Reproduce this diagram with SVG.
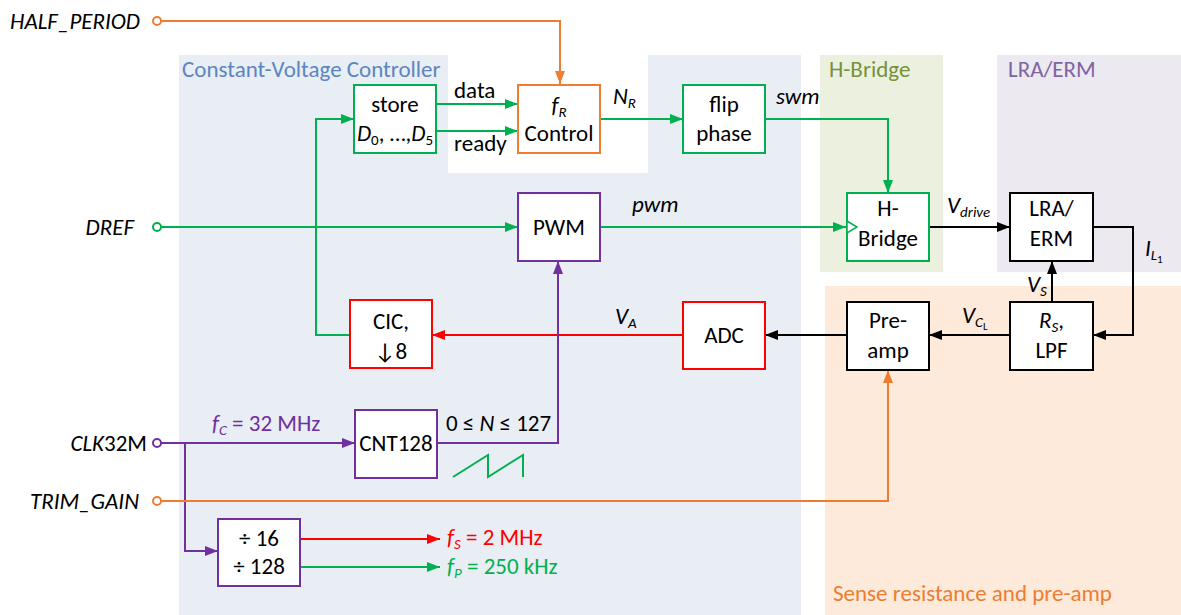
<svg xmlns="http://www.w3.org/2000/svg" width="1181" height="615" viewBox="0 0 1181 615">
<style>
text{font-family:Carlito,Lato,"Open Sans",sans-serif;font-size:23px;fill:#000}
.c{text-anchor:middle}
.r{text-anchor:end}
.i{font-style:italic}
.box{fill:#fff;stroke-width:2}
.g{stroke:#00B050}.o{stroke:#ED7D31}.p{stroke:#7030A0}.rd{stroke:#FF0000}.k{stroke:#000}
.ln{fill:none;stroke-width:2}
.sub{font-size:15px}
.ss{font-size:11px}
</style>
<defs>
<marker id="ag" markerUnits="userSpaceOnUse" markerWidth="13" markerHeight="10" refX="13" refY="5" orient="auto"><path d="M0,0L13,5L0,10z" fill="#00B050"/></marker>
<marker id="ao" markerUnits="userSpaceOnUse" markerWidth="13" markerHeight="10" refX="13" refY="5" orient="auto"><path d="M0,0L13,5L0,10z" fill="#ED7D31"/></marker>
<marker id="ap" markerUnits="userSpaceOnUse" markerWidth="13" markerHeight="10" refX="13" refY="5" orient="auto"><path d="M0,0L13,5L0,10z" fill="#7030A0"/></marker>
<marker id="ar" markerUnits="userSpaceOnUse" markerWidth="13" markerHeight="10" refX="13" refY="5" orient="auto"><path d="M0,0L13,5L0,10z" fill="#FF0000"/></marker>
<marker id="ak" markerUnits="userSpaceOnUse" markerWidth="13" markerHeight="10" refX="13" refY="5" orient="auto"><path d="M0,0L13,5L0,10z" fill="#000"/></marker>
</defs>
<rect width="1181" height="615" fill="#fff"/>
<g id="regions">
<rect x="179" y="55" width="622" height="560" fill="#E9EDF4"/>
<rect x="448" y="55" width="200" height="118" fill="#fff"/>
<rect x="820" y="55" width="123" height="217" fill="#EBF1DE"/>
<rect x="997" y="55" width="184" height="217" fill="#ECE9F1"/>
<rect x="825" y="286" width="356" height="329" fill="#FDEADA"/>
<text x="182" y="77" style="fill:#5B86C0">Constant-Voltage Controller</text>
<text x="829" y="77" style="fill:#76923C">H-Bridge</text>
<text x="1008" y="77" style="fill:#8064A2">LRA/ERM</text>
<text x="833" y="601" style="fill:#ED7D31">Sense resistance and pre-amp</text>
</g>
<g id="connectors">
<polyline class="ln o" points="161,21 560,21 560,84" marker-end="url(#ao)"/>
<line class="ln g" x1="161" y1="227" x2="518" y2="227" marker-end="url(#ag)"/>
<line class="ln g" x1="436" y1="104" x2="518" y2="104" marker-end="url(#ag)"/>
<line class="ln g" x1="436" y1="131" x2="518" y2="131" marker-end="url(#ag)"/>
<line class="ln g" x1="600" y1="119" x2="683" y2="119" marker-end="url(#ag)"/>
<polyline class="ln g" points="765,119 888,119 888,193" marker-end="url(#ag)"/>
<line class="ln g" x1="600" y1="227" x2="846" y2="227" marker-end="url(#ag)"/>
<line class="ln k" x1="929" y1="227" x2="1010" y2="227" marker-end="url(#ak)"/>
<polyline class="ln k" points="1093,227 1133,227 1133,335 1093,335" marker-end="url(#ak)"/>
<line class="ln k" x1="1052" y1="302" x2="1052" y2="261" marker-end="url(#ak)"/>
<line class="ln k" x1="1010" y1="335" x2="929" y2="335" marker-end="url(#ak)"/>
<line class="ln k" x1="847" y1="335" x2="765" y2="335" marker-end="url(#ak)"/>
<line class="ln rd" x1="683" y1="335" x2="432" y2="335" marker-end="url(#ar)"/>
<polyline class="ln g" points="350,335 316,335 316,119 354,119" marker-end="url(#ag)"/>
<polyline class="ln p" points="437,443 558,443 558,261" marker-end="url(#ap)"/>
<line class="ln p" x1="161" y1="443" x2="355" y2="443" marker-end="url(#ap)"/>
<polyline class="ln p" points="185,443 185,551 218,551" marker-end="url(#ap)"/>
<polyline class="ln o" points="161,501 888,501 888,370" marker-end="url(#ao)"/>
<line class="ln rd" x1="300" y1="539" x2="440" y2="539" marker-end="url(#ar)"/>
<line class="ln g" x1="300" y1="567" x2="440" y2="567" marker-end="url(#ag)"/>
<polyline class="ln g" points="453,477 488,455 488,477 523,455 523,477" stroke-width="1.5"/>
<circle cx="157" cy="21" r="4" fill="#fff" stroke="#ED7D31" stroke-width="2"/>
<circle cx="157" cy="227" r="4" fill="#fff" stroke="#00B050" stroke-width="2"/>
<circle cx="157" cy="443" r="4" fill="#fff" stroke="#7030A0" stroke-width="2"/>
<circle cx="157" cy="501" r="4" fill="#fff" stroke="#ED7D31" stroke-width="2"/>
</g>
<g id="store"><rect class="box g" x="354" y="85" width="82" height="68"/>
<text class="c" x="395" y="112">store</text>
<text class="c" x="395" y="141"><tspan class="i">D</tspan><tspan class="sub" dy="4">0</tspan><tspan dy="-4">, …,</tspan><tspan class="i">D</tspan><tspan class="sub" dy="4">5</tspan></text></g>
<g id="fr-control"><rect class="box o" x="518" y="85" width="82" height="68"/>
<text class="c" x="559" y="113"><tspan class="i">f</tspan><tspan class="sub i" dy="4">R</tspan></text>
<text class="c" x="559" y="141">Control</text></g>
<g id="flip-phase"><rect class="box g" x="683" y="85" width="82" height="68"/>
<text class="c" x="724" y="112">flip</text>
<text class="c" x="724" y="141">phase</text></g>
<g id="pwm"><rect class="box p" x="518" y="193" width="82" height="68"/>
<text class="c" x="559" y="235">PWM</text></g>
<g id="h-bridge"><rect class="box g" x="847" y="193" width="82" height="68"/>
<polygon points="847,221 857,227 847,233" fill="#fff" stroke="#00B050" stroke-width="1.5"/>
<text class="c" x="888" y="216">H-</text>
<text class="c" x="888" y="246">Bridge</text></g>
<g id="lra-erm"><rect class="box k" x="1010" y="193" width="83" height="68"/>
<text class="c" x="1051.5" y="216">LRA/</text>
<text class="c" x="1051.5" y="246">ERM</text></g>
<g id="rs-lpf"><rect class="box k" x="1010" y="302" width="83" height="68"/>
<text class="c" x="1051.5" y="328"><tspan class="i">R</tspan><tspan class="sub i" dy="4">S</tspan><tspan dy="-4">,</tspan></text>
<text class="c" x="1051.5" y="358">LPF</text></g>
<g id="pre-amp"><rect class="box k" x="847" y="302" width="82" height="68"/>
<text class="c" x="888" y="328">Pre-</text>
<text class="c" x="888" y="358">amp</text></g>
<g id="adc"><rect class="box rd" x="683" y="302" width="82" height="67"/>
<text class="c" x="724" y="343">ADC</text></g>
<g id="cic"><rect class="box rd" x="350" y="300" width="82" height="68"/>
<text class="c" x="391" y="329">CIC,</text>
<text class="c" x="391" y="359">↓8</text></g>
<g id="cnt128"><rect class="box p" x="355" y="410" width="82" height="68"/>
<text class="c" x="396" y="451">CNT128</text></g>
<g id="divider"><rect class="box p" x="218" y="519" width="82" height="67"/>
<text class="c" x="259" y="546">÷ 16</text>
<text class="c" x="259" y="574">÷ 128</text></g>
<g id="labels">
<text class="r i" x="140" y="29">HALF_PERIOD</text>
<text class="r i" x="134" y="235">DREF</text>
<text class="r" x="147" y="451"><tspan class="i">CLK</tspan>32M</text>
<text class="r i" x="139" y="509">TRIM_GAIN</text>
<text x="454" y="98">data</text>
<text x="454" y="151">ready</text>
<text x="613" y="104"><tspan class="i">N</tspan><tspan class="sub i" dy="4">R</tspan></text>
<text class="i" x="776" y="104">swm</text>
<text class="i" x="632" y="212">pwm</text>
<text x="947" y="213"><tspan class="i">V</tspan><tspan class="sub i" dy="4">drive</tspan></text>
<text x="1145" y="256"><tspan class="i">I</tspan><tspan class="sub i" dy="4">L</tspan><tspan class="ss" dy="3">1</tspan></text>
<text x="1027" y="292"><tspan class="i">V</tspan><tspan class="sub i" dy="4">S</tspan></text>
<text x="962" y="323"><tspan class="i">V</tspan><tspan class="sub i" dy="4">C</tspan><tspan class="ss" dy="3">L</tspan></text>
<text x="615" y="324"><tspan class="i">V</tspan><tspan class="sub i" dy="4">A</tspan></text>
<text x="446" y="431">0 ≤ <tspan class="i">N</tspan> ≤ 127</text>
<text x="212" y="431" style="fill:#7030A0"><tspan class="i">f</tspan><tspan class="sub i" dy="4">C</tspan><tspan dy="-4"> = 32 MHz</tspan></text>
<text x="447" y="545" style="fill:#FF0000"><tspan class="i">f</tspan><tspan class="sub i" dy="4">S</tspan><tspan dy="-4"> = 2 MHz</tspan></text>
<text x="447" y="574" style="fill:#00B050"><tspan class="i">f</tspan><tspan class="sub i" dy="4">P</tspan><tspan dy="-4"> = 250 kHz</tspan></text>
</g>
</svg>
